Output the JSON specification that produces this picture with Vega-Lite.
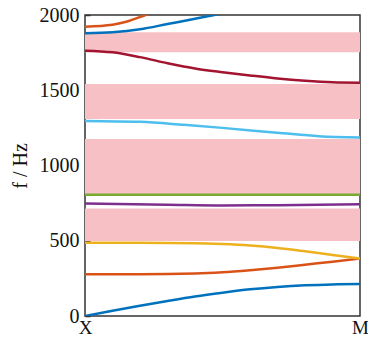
{
  "$schema": "https://vega.github.io/schema/vega-lite/v6.json",
  "width": 275,
  "height": 301,
  "autosize": {"type": "none"},
  "padding": {"left": 85, "top": 15, "right": 8, "bottom": 27},
  "background": "white",
  "config": {
    "view": {"stroke": "#333333", "strokeWidth": 1.5},
    "font": "serif",
    "axis": {"labelFont": "serif", "titleFont": "serif", "labelColor": "#111", "titleColor": "#111", "grid": false}
  },
  "datasets": {
    "bands": [
      {"lo": 1752, "hi": 1885},
      {"lo": 1309, "hi": 1542},
      {"lo": 805, "hi": 1176},
      {"lo": 498, "hi": 714}
    ],
    "lines": [
      {"s": "a1", "t": 0, "f": 0}, {"s": "a1", "t": 0.1, "f": 35}, {"s": "a1", "t": 0.2, "f": 68}, {"s": "a1", "t": 0.3, "f": 100}, {"s": "a1", "t": 0.4, "f": 130}, {"s": "a1", "t": 0.5, "f": 155}, {"s": "a1", "t": 0.6, "f": 177}, {"s": "a1", "t": 0.7, "f": 193}, {"s": "a1", "t": 0.8, "f": 204}, {"s": "a1", "t": 0.9, "f": 210}, {"s": "a1", "t": 1, "f": 212},
      {"s": "a2", "t": 0, "f": 278}, {"s": "a2", "t": 0.2, "f": 278}, {"s": "a2", "t": 0.4, "f": 282}, {"s": "a2", "t": 0.5, "f": 290}, {"s": "a2", "t": 0.6, "f": 304}, {"s": "a2", "t": 0.7, "f": 321}, {"s": "a2", "t": 0.8, "f": 341}, {"s": "a2", "t": 0.9, "f": 361}, {"s": "a2", "t": 1, "f": 382},
      {"s": "a3", "t": 0, "f": 487}, {"s": "a3", "t": 0.2, "f": 487}, {"s": "a3", "t": 0.4, "f": 484}, {"s": "a3", "t": 0.5, "f": 478}, {"s": "a3", "t": 0.6, "f": 468}, {"s": "a3", "t": 0.7, "f": 452}, {"s": "a3", "t": 0.8, "f": 430}, {"s": "a3", "t": 0.9, "f": 406}, {"s": "a3", "t": 1, "f": 382},
      {"s": "a4", "t": 0, "f": 748}, {"s": "a4", "t": 0.3, "f": 740}, {"s": "a4", "t": 0.5, "f": 735}, {"s": "a4", "t": 0.7, "f": 736}, {"s": "a4", "t": 1, "f": 743},
      {"s": "a5", "t": 0, "f": 806}, {"s": "a5", "t": 0.5, "f": 806}, {"s": "a5", "t": 1, "f": 806},
      {"s": "a6", "t": 0, "f": 1296}, {"s": "a6", "t": 0.2, "f": 1290}, {"s": "a6", "t": 0.36, "f": 1270}, {"s": "a6", "t": 0.5, "f": 1250}, {"s": "a6", "t": 0.72, "f": 1214}, {"s": "a6", "t": 0.85, "f": 1195}, {"s": "a6", "t": 1, "f": 1186},
      {"s": "a7", "t": 0, "f": 1763}, {"s": "a7", "t": 0.1, "f": 1752}, {"s": "a7", "t": 0.2, "f": 1720}, {"s": "a7", "t": 0.3, "f": 1680}, {"s": "a7", "t": 0.4, "f": 1645}, {"s": "a7", "t": 0.5, "f": 1620}, {"s": "a7", "t": 0.6, "f": 1598}, {"s": "a7", "t": 0.7, "f": 1578}, {"s": "a7", "t": 0.8, "f": 1563}, {"s": "a7", "t": 0.9, "f": 1553}, {"s": "a7", "t": 1, "f": 1550},
      {"s": "a8", "t": 0, "f": 1878}, {"s": "a8", "t": 0.1, "f": 1885}, {"s": "a8", "t": 0.2, "f": 1905}, {"s": "a8", "t": 0.3, "f": 1940}, {"s": "a8", "t": 0.4, "f": 1975}, {"s": "a8", "t": 0.47, "f": 2000}, {"s": "a8", "t": 0.55, "f": 2030},
      {"s": "a9", "t": 0, "f": 1922}, {"s": "a9", "t": 0.1, "f": 1935}, {"s": "a9", "t": 0.15, "f": 1955}, {"s": "a9", "t": 0.22, "f": 2000}, {"s": "a9", "t": 0.28, "f": 2040}
    ]
  },
  "layer": [
    {
      "data": {"name": "bands"},
      "mark": {"type": "rect", "color": "#F7C0C5"},
      "encoding": {
        "y": {"field": "lo", "type": "quantitative", "scale": {"domain": [0, 2000], "nice": false},
          "axis": {"values": [0, 500, 1000, 1500, 2000], "labelExpr": "datum.value + ''", "tickSize": -5, "tickColor": "#333", "tickWidth": 1.5, "domain": false, "labelFont": "serif", "labelFontSize": 20, "labelPadding": 11, "title": "f / Hz", "titleFont": "serif", "titleFontSize": 20, "titleFontWeight": "normal", "titlePadding": 9}},
        "y2": {"field": "hi"}
      }
    },
    {
      "data": {"name": "lines"},
      "mark": {"type": "line", "strokeWidth": 2.5, "interpolate": "monotone", "clip": true},
      "encoding": {
        "x": {"field": "t", "type": "quantitative", "scale": {"domain": [0, 1], "nice": false},
          "axis": {"values": [0, 1], "labelExpr": "datum.value == 0 ? 'X' : 'M'", "ticks": false, "domain": false, "labelFont": "serif", "labelFontSize": 19, "labelPadding": 2, "title": null, "labelFlush": false}},
        "y": {"field": "f", "type": "quantitative",
          "axis": {"values": [0, 500, 1000, 1500, 2000], "labelExpr": "datum.value + ''", "tickSize": -5, "tickColor": "#333", "tickWidth": 1.5, "domain": false, "labelFont": "serif", "labelFontSize": 20, "labelPadding": 11, "title": "f / Hz", "titleFont": "serif", "titleFontSize": 20, "titleFontWeight": "normal", "titlePadding": 9}},
        "color": {"field": "s", "type": "nominal", "legend": null,
          "scale": {"domain": ["a1","a2","a3","a4","a5","a6","a7","a8","a9"],
            "range": ["#0072BD","#D95319","#EDB120","#7E2F8E","#77AC30","#4DBEEE","#A2142F","#0072BD","#D95319"]}},
        "detail": {"field": "s"}
      }
    }
  ]
}
